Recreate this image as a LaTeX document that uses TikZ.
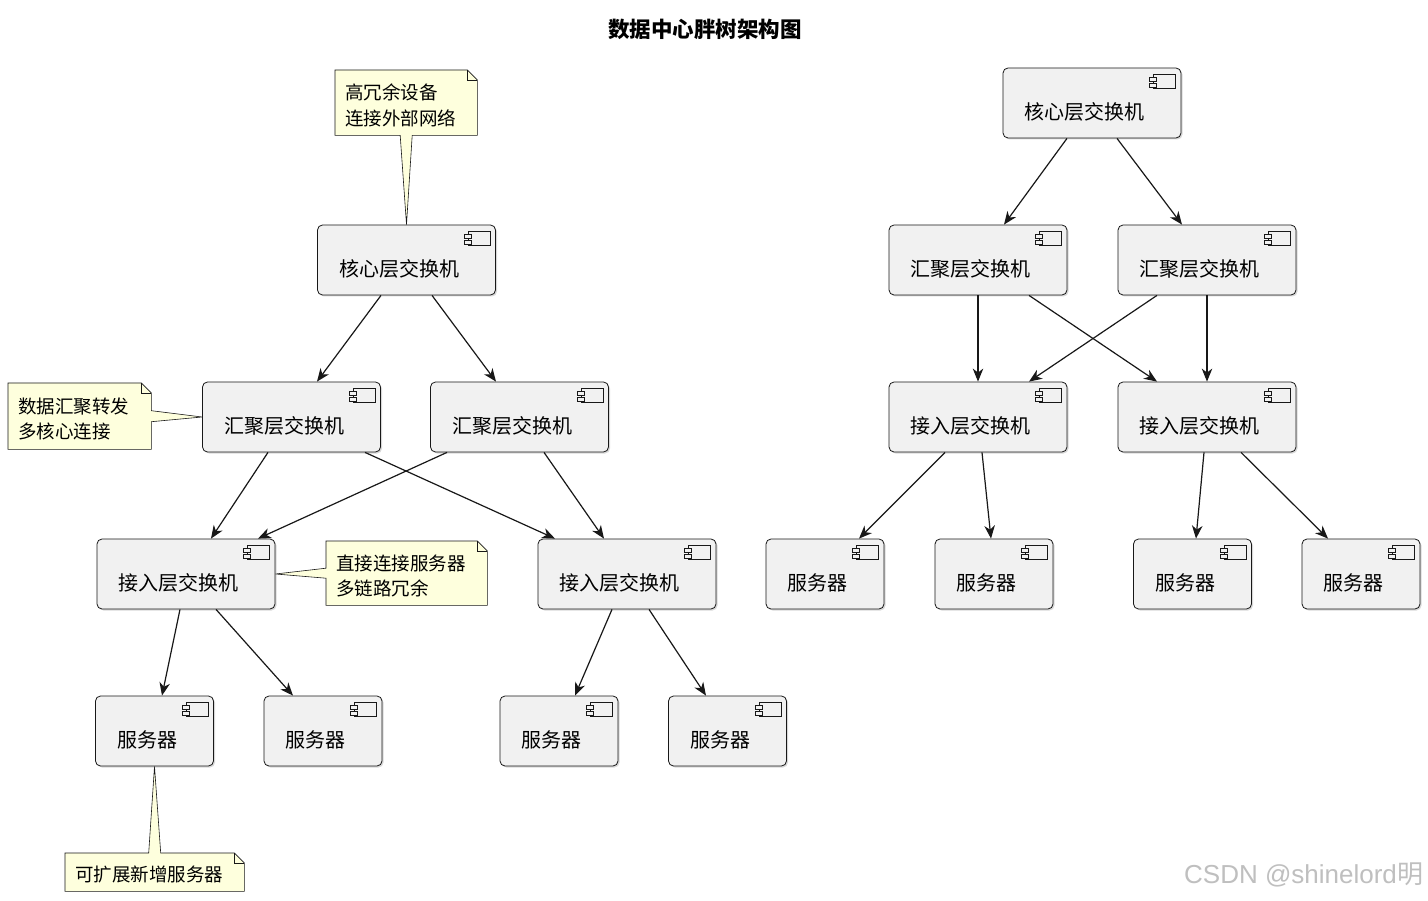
\documentclass[tikz,border=0pt]{standalone}
\usepackage{fontspec}
\setmainfont{Noto Sans CJK SC}
\newfontfamily\wmfont{Liberation Sans}
\usetikzlibrary{arrows.meta,calc,shadows,backgrounds}
\definecolor{boxfill}{RGB}{241,241,241}
\definecolor{notefill}{RGB}{254,255,221}
\definecolor{linec}{RGB}{24,24,24}
\newcommand\nstrut{\rule{0pt}{21pt}}
\tikzset{
  compbox/.style={draw=linec, line width=0.8pt, fill=boxfill, rounded corners=5pt,
    minimum height=70pt, inner sep=0pt,
    drop shadow={shadow xshift=1.5pt, shadow yshift=-1.5pt, opacity=0.3}},
  complabel/.style={inner sep=0pt, font=\fontsize{20}{22}\selectfont, text=black},
  iconpart/.style={draw=linec, line width=0.6pt, fill=boxfill},
  arr/.style={draw=linec, line width=1.2pt, -{Stealth[length=13pt,width=10.5pt,inset=4pt]}},
  notebody/.style={inner xsep=10pt, inner ysep=0pt, anchor=north west, align=left,
    font=\fontsize{18.5}{25.5}\selectfont},
  noteline/.style={draw=linec, line width=0.6pt, fill=notefill},
  foldline/.style={draw=linec, line width=0.6pt},
}
\newcommand\comp[5]{%
  \node[compbox, minimum width=#4pt] (#1) at (#2,#3) {};
  \node[complabel, anchor=west] (#1-t) at ([xshift=22pt,yshift=-9pt]#1.west) {#5};
  \draw[iconpart] ($(#1.north east)+(-28,7)$) rectangle ($(#1.north east)+(-6,21)$);
  \draw[iconpart] ($(#1.north east)+(-32,10)$) rectangle ($(#1.north east)+(-25,14)$);
  \draw[iconpart] ($(#1.north east)+(-32,16)$) rectangle ($(#1.north east)+(-25,20)$);
}
\begin{document}
\begin{tikzpicture}[x=1pt,y=-1pt]
\useasboundingbox (0,0) rectangle (1428,901);
\begin{scope}[on background layer]
  \fill[white] (0,0) rectangle (1428,901);
\end{scope}

% title
\node[font=\bfseries\fontsize{21.5}{24}\selectfont] (title) at (705,29) {数据中心胖树架构图};

% ---------- left tree ----------
\comp{lcore}{406.5}{260}{178}{核心层交换机}
\comp{lagg1}{291.5}{417}{178}{汇聚层交换机}
\comp{lagg2}{519.5}{417}{178}{汇聚层交换机}
\comp{lacc1}{186}{574}{178}{接入层交换机}
\comp{lacc2}{627}{574}{178}{接入层交换机}
\comp{lsrv1}{154.5}{731}{118}{服务器}
\comp{lsrv2}{323}{731}{118}{服务器}
\comp{lsrv3}{559}{731}{118}{服务器}
\comp{lsrv4}{727.5}{731}{118}{服务器}

% ---------- right tree ----------
\comp{rcore}{1092}{103}{178}{核心层交换机}
\comp{ragg1}{978}{260}{178}{汇聚层交换机}
\comp{ragg2}{1207}{260}{178}{汇聚层交换机}
\comp{racc1}{978}{417}{178}{接入层交换机}
\comp{racc2}{1207}{417}{178}{接入层交换机}
\comp{rsrv1}{825}{574}{118}{服务器}
\comp{rsrv2}{994}{574}{118}{服务器}
\comp{rsrv3}{1192.5}{574}{118}{服务器}
\comp{rsrv4}{1361}{574}{118}{服务器}

% ---------- notes ----------
\node[notebody, text width=122pt, minimum height=65pt] (n1) at (335,70) {\nstrut 高冗余设备\\连接外部网络};
\node[notebody, text width=123pt, minimum height=66pt] (n2) at (8,383) {\nstrut 数据汇聚转发\\多核心连接};
\node[notebody, text width=141pt, minimum height=64pt] (n3) at (326,541) {\nstrut 直接连接服务器\\多链路冗余};
\node[notebody, text width=159pt, minimum height=38pt] (n4) at (65,853) {\nstrut 可扩展新增服务器};

\begin{scope}[on background layer]
  \draw[noteline] (n1.north west) -- ([xshift=-10pt]n1.north east) -- ([yshift=-10pt]n1.north east)
    -- (n1.south east) -- ([xshift=6pt]n1.south) -- (lcore.north) -- ([xshift=-6pt]n1.south)
    -- (n1.south west) -- cycle;
  \draw[foldline] ([xshift=-10pt]n1.north east) |- ([yshift=-10pt]n1.north east);

  \draw[noteline] (n2.north west) -- ([xshift=-10pt]n2.north east) -- ([yshift=-10pt]n2.north east)
    -- ([yshift=5.5pt]n2.east) -- (lagg1.west) -- ([yshift=-5.5pt]n2.east)
    -- (n2.south east) -- (n2.south west) -- cycle;
  \draw[foldline] ([xshift=-10pt]n2.north east) |- ([yshift=-10pt]n2.north east);

  \draw[noteline] (n3.north west) -- ([xshift=-10pt]n3.north east) -- ([yshift=-10pt]n3.north east)
    -- (n3.south east) -- (n3.south west) -- ([yshift=-5pt]n3.west) -- (lacc1.east)
    -- ([yshift=5pt]n3.west) -- cycle;
  \draw[foldline] ([xshift=-10pt]n3.north east) |- ([yshift=-10pt]n3.north east);

  \draw[noteline] (n4.north west) -- ([xshift=-6pt]n4.north) -- (lsrv1.south) -- ([xshift=6pt]n4.north)
    -- ([xshift=-10pt]n4.north east) -- ([yshift=-10pt]n4.north east)
    -- (n4.south east) -- (n4.south west) -- cycle;
  \draw[foldline] ([xshift=-10pt]n4.north east) |- ([yshift=-10pt]n4.north east);
\end{scope}

% ---------- left arrows ----------
\draw[arr] ([xshift=-25.5pt]lcore.south) -- ([xshift=25.5pt]lagg1.north);
\draw[arr] ([xshift=25.5pt]lcore.south) -- ([xshift=-23.5pt]lagg2.north);
\draw[arr] ([xshift=-23.5pt]lagg1.south) -- ([xshift=25pt]lacc1.north);
\draw[arr] ([xshift=73.5pt]lagg1.south) -- ([xshift=-72pt]lacc2.north);
\draw[arr] ([xshift=-72.5pt]lagg2.south) -- ([xshift=72pt]lacc1.north);
\draw[arr] ([xshift=24.5pt]lagg2.south) -- ([xshift=-23pt]lacc2.north);
\draw[arr] ([xshift=-6pt]lacc1.south) -- ([xshift=7.5pt]lsrv1.north);
\draw[arr] ([xshift=30pt]lacc1.south) -- ([xshift=-30pt]lsrv2.north);
\draw[arr] ([xshift=-15pt]lacc2.south) -- ([xshift=16pt]lsrv3.north);
\draw[arr] ([xshift=22pt]lacc2.south) -- ([xshift=-21.5pt]lsrv4.north);

% ---------- right arrows ----------
\draw[arr] ([xshift=-25pt]rcore.south) -- ([xshift=26pt]ragg1.north);
\draw[arr] ([xshift=25pt]rcore.south) -- ([xshift=-25pt]ragg2.north);
\draw[arr] (ragg1.south) -- (racc1.north);
\draw[arr] ([xshift=51pt]ragg1.south) -- ([xshift=-50pt]racc2.north);
\draw[arr] ([xshift=-50pt]ragg2.south) -- ([xshift=51pt]racc1.north);
\draw[arr] (ragg2.south) -- (racc2.north);
\draw[arr] ([xshift=-33pt]racc1.south) -- ([xshift=34pt]rsrv1.north);
\draw[arr] ([xshift=4pt]racc1.south) -- ([xshift=-3pt]rsrv2.north);
\draw[arr] ([xshift=-3pt]racc2.south) -- ([xshift=3.5pt]rsrv3.north);
\draw[arr] ([xshift=34pt]racc2.south) -- ([xshift=-33pt]rsrv4.north);

% watermark
\node[anchor=west, inner sep=0pt, text=black!25, font=\wmfont\fontsize{26}{28}\selectfont] (wm) at (1184,875) {CSDN @shinelord{\rmfamily 明}};
\end{tikzpicture}
\end{document}
